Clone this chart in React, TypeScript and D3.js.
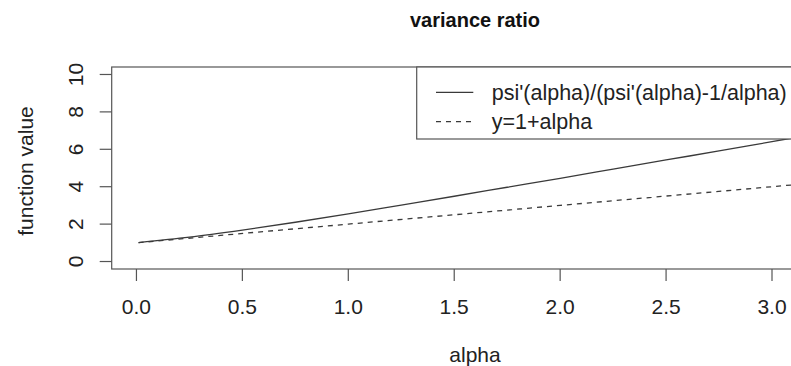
import * as d3 from "d3";

// values
const alphaValues = [0.01, 0.25, 0.5, 0.75, 1.0, 1.25, 1.5, 1.75, 2.0, 2.25, 2.5, 2.75, 3.0, 3.18];
const ratioValues = [1.01, 1.3, 1.68, 2.1, 2.55, 3.02, 3.49, 3.97, 4.45, 4.94, 5.43, 5.91, 6.41, 6.77];
const lineAlpha = [0.01, 1.0, 2.0, 3.18];
const lineValues = [1.01, 2.0, 3.0, 4.18];

const xTicks = [0, 0.5, 1, 1.5, 2, 2.5, 3];
const yTicks = [0, 2, 4, 6, 8, 10];
const legendLabels = ["psi'(alpha)/(psi'(alpha)-1/alpha)", "y=1+alpha"];

const W = 791;
const H = 366;
const font = "'Liberation Sans', Arial, Helvetica, sans-serif";

export default function App() {
    // R style: 4% padding around data range
    const xMin = d3.min(alphaValues)!;
    const xMax = d3.max(alphaValues)!;
    const pad = (xMax - xMin) * 0.04;
    const plot = { left: 111.7, right: 837, top: 67, bottom: 269 };

    const x = d3
        .scaleLinear()
        .domain([xMin - pad, xMax + pad])
        .range([plot.left, plot.right]);
    const y = d3
        .scaleLinear()
        .domain([-0.4, 10.4])
        .range([plot.bottom, plot.top]);

    const line = d3
        .line<[number, number]>()
        .x((d) => x(d[0]))
        .y((d) => y(d[1]))
        .curve(d3.curveMonotoneX);

    const solid = alphaValues.map((a, i) => [a, ratioValues[i]] as [number, number]);
    const dashed = lineAlpha.map((a, i) => [a, lineValues[i]] as [number, number]);

    const stroke = "#3a3a3a";
    const boxColor = "#555";
    const tickLen = 12;
    const labelSize = 21;
    const dash = "5 5";

    const legend = { left: 416.7, top: plot.top, bottom: 139 };

    return (
        <svg
            width={W}
            height={H}
            style={{ position: "absolute", left: 0, top: 0, background: "#fff" }}
            fontFamily={font}
        >
            <rect x={0} y={0} width={W} height={H} fill="#fff" />

            {/* title */}
            <text
                x={475}
                y={27}
                textAnchor="middle"
                fontSize={20}
                fontWeight="bold"
                fill="#111"
            >
                variance ratio
            </text>

            {/* lines */}
            <path d={line(solid)!} fill="none" stroke={stroke} strokeWidth={1.3} />
            <path
                d={line(dashed)!}
                fill="none"
                stroke={stroke}
                strokeWidth={1.3}
                strokeDasharray={dash}
            />

            {/* box */}
            <rect
                x={plot.left}
                y={plot.top}
                width={plot.right - plot.left}
                height={plot.bottom - plot.top}
                fill="none"
                stroke={boxColor}
                strokeWidth={1.2}
            />

            {/* x axis */}
            {xTicks.map((t) => (
                <g key={t}>
                    <line
                        x1={x(t)}
                        x2={x(t)}
                        y1={plot.bottom}
                        y2={plot.bottom + tickLen}
                        stroke={boxColor}
                        strokeWidth={1.2}
                    />
                    <text
                        x={x(t)}
                        y={314}
                        textAnchor="middle"
                        fontSize={labelSize}
                        fill="#222"
                    >
                        {t.toFixed(1)}
                    </text>
                </g>
            ))}
            <text x={475} y={362} textAnchor="middle" fontSize={labelSize} fill="#222">
                alpha
            </text>

            {/* y axis */}
            {yTicks.map((t) => (
                <g key={t}>
                    <line
                        x1={plot.left - tickLen}
                        x2={plot.left}
                        y1={y(t)}
                        y2={y(t)}
                        stroke={boxColor}
                        strokeWidth={1.2}
                    />
                    <text
                        transform={`translate(83, ${y(t)}) rotate(-90)`}
                        textAnchor="middle"
                        fontSize={labelSize}
                        fill="#222"
                    >
                        {t}
                    </text>
                </g>
            ))}
            <text
                transform={`translate(33, ${(plot.top + plot.bottom) / 2 + 3}) rotate(-90)`}
                textAnchor="middle"
                fontSize={labelSize}
                fill="#222"
            >
                function value
            </text>

            {/* legend */}
            <rect
                x={legend.left}
                y={legend.top}
                width={plot.right - legend.left}
                height={legend.bottom - legend.top}
                fill="#fff"
                stroke={boxColor}
                strokeWidth={1.2}
            />
            {legendLabels.map((label, i) => {
                const ly = 92.3 + i * 29.4;
                return (
                    <g key={label}>
                        <line
                            x1={436}
                            x2={473.3}
                            y1={ly}
                            y2={ly}
                            stroke={stroke}
                            strokeWidth={1.3}
                            strokeDasharray={i === 1 ? dash : undefined}
                        />
                        <text x={491.7} y={ly + 7.5} fontSize={21.5} fill="#222">
                            {label}
                        </text>
                    </g>
                );
            })}
        </svg>
    );
}
